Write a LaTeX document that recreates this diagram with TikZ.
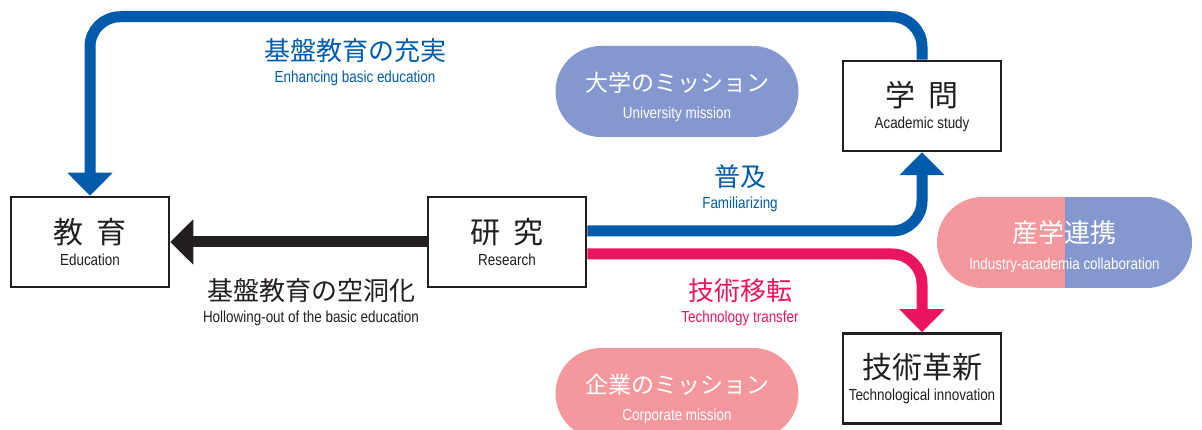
\documentclass[tikz,border=0pt]{standalone}
\usepackage{fontspec}
\setmainfont[FakeStretch=0.84]{Liberation Sans}
\newfontfamily\jafont{Noto Sans CJK JP}
\usetikzlibrary{arrows.meta}
\definecolor{uniblue}{RGB}{0,91,171}
\definecolor{techpink}{RGB}{235,20,96}
\definecolor{pillblue}{RGB}{132,151,207}
\definecolor{pillpink}{RGB}{245,152,157}
\definecolor{ink}{RGB}{35,31,32}
\newcommand{\jaL}[1]{{\jafont\fontsize{30}{30}\selectfont #1}}
\newcommand{\jaM}[1]{{\jafont\fontsize{26}{26}\selectfont #1}}
\newcommand{\jaS}[1]{{\jafont\fontsize{23}{23}\selectfont #1}}

\begin{document}
\begin{tikzpicture}[x=1pt, y=-1pt,
    box/.style={draw=ink, line width=2.5pt, rectangle, fill=white, minimum width=158pt, minimum height=90pt, align=center, text=ink, font=\fontsize{16}{22}\selectfont},
    pill/.style={rectangle, rounded corners=45.5pt, minimum width=243pt, minimum height=91pt},
    pilltext/.style={align=center, text=white, font=\fontsize{16}{27}\selectfont},
    caption/.style={align=center, font=\fontsize{16}{22}\selectfont},
    flow/.style={line width=11pt, rounded corners=30pt, -{Triangle[length=23pt, width=44pt]}}]

    \useasboundingbox (0,0) rectangle (1202,430);

    % missions
    \node[pill, fill=pillblue] (daigaku) at (677,91.5) {};
    \node[pill, fill=pillpink] (kigyo) at (677,393.5) {};
    \node[pill, minimum width=255pt, path picture={
        \fill[pillpink, sharp corners] (path picture bounding box.north west) rectangle (path picture bounding box.south);
        \fill[pillblue, sharp corners] (path picture bounding box.north) rectangle (path picture bounding box.south east);}] (sangaku) at (1064.5,242.5) {};
    \node[pilltext] (daigakutxt) at ([yshift=-5pt]daigaku.center) {\jaS{大学のミッション}\\University mission};
    \node[pilltext] (kigyotxt) at ([yshift=-5pt]kigyo.center) {\jaS{企業のミッション}\\Corporate mission};
    \node[pilltext] (sangakutxt) at ([yshift=-4pt]sangaku.center) {\jaM{産学連携}\\Industry-academia collaboration};

    % boxes
    \node[box] (kyoiku) at (90,242) {\jaL{教\hspace{13pt}育}\\Education};
    \node[box] (kenkyu) at (507,242) {\jaL{研\hspace{13pt}究}\\Research};
    \node[box] (gakumon) at (922,106) {\jaL{学\hspace{13pt}問}\\Academic study};
    \node[box] (gijutsu) at (922,378.5) {\jaL{技術革新}\\Technological innovation};

    % labels
    \node[caption, text=uniblue] (enhance) at (355,62) {\jaM{基盤教育の充実}\\Enhancing basic education};
    \node[caption, text=uniblue] (fukyu) at (740,188) {\jaM{普及}\\Familiarizing};
    \node[caption, text=techpink] (transfer) at (740,302) {\jaM{技術移転}\\Technology transfer};
    \node[caption, text=ink] (hollow) at (311,302) {\jaM{基盤教育の空洞化}\\Hollowing-out of the basic education};

    % flows
    \draw[flow, draw=uniblue] (gakumon.north) -- ++(0,-43) -| (kyoiku.north);
    \draw[flow, draw=uniblue] ([yshift=11pt]kenkyu.east) -| (gakumon.south);
    \draw[flow, draw=techpink] ([yshift=-12pt]kenkyu.east) -| (gijutsu.north);
    \draw[flow, draw=ink] (kenkyu.west) -- (kyoiku.east);
\end{tikzpicture}
\end{document}
